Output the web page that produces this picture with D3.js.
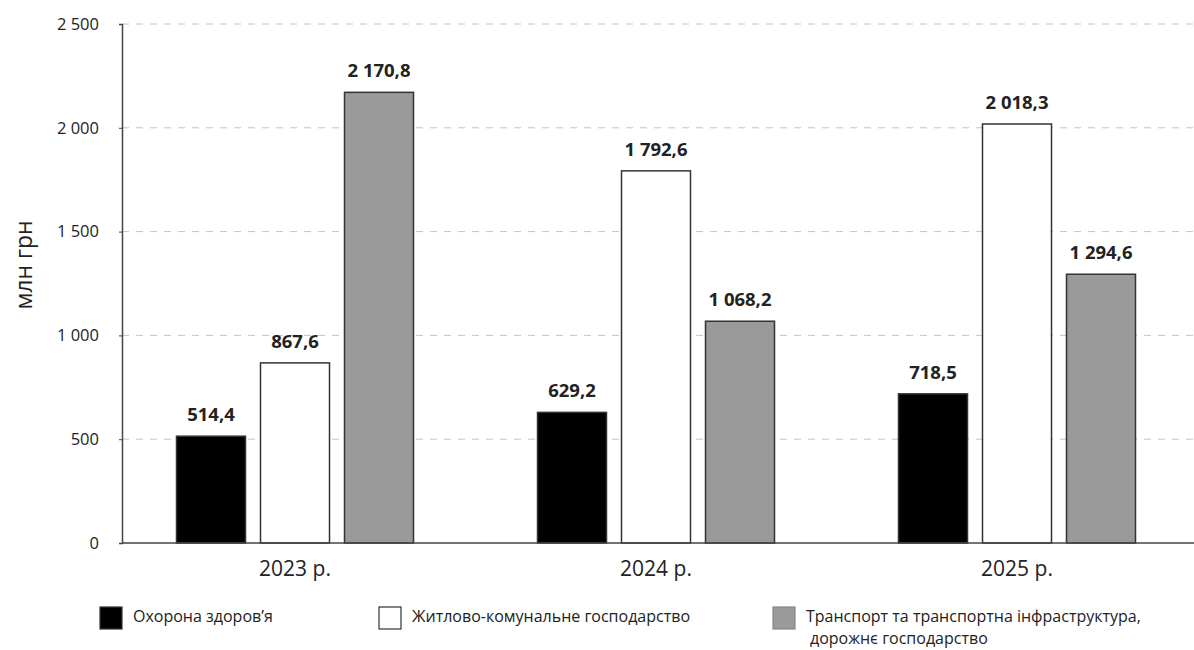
<!DOCTYPE html>
<html><head><meta charset="utf-8">
<script src="https://cdn.jsdelivr.net/npm/d3@7"></script>
<style>body{margin:0;background:#fff}svg{display:block}text{font-family:"Open Sans",sans-serif;fill:#222}</style>
</head><body><svg id="c" width="1194" height="650"></svg>
<script>
const years = ["2023 р.", "2024 р.", "2025 р."];
const seriesNames = ["Охорона здоров’я", "Житлово-комунальне господарство", "Транспорт та транспортна інфраструктура,|дорожнє господарство"];
const health = [514.4, 629.2, 718.5];
const housing = [867.6, 1792.6, 2018.3];
const transport = [2170.8, 1068.2, 1294.6];
const yTicks = [0, 500, 1000, 1500, 2000, 2500];
const fills = ["#000000", "#ffffff", "#9a9a9a"];

const series = [health, housing, transport];
const svg = d3.select("#c");
const y = d3.scaleLinear().domain([0, 2500]).range([543, 24]);
const x = d3.scaleBand().domain(years).range([114.5, 1197.5]).padding(0);
const fmt = v => {
  const s = v.toFixed(1).replace(".", ",");
  const [i, d] = s.split(",");
  return i.replace(/\B(?=(\d{3})+(?!\d))/g, " ") + "," + d;
};
const fmtTick = v => String(v).replace(/\B(?=(\d{3})+(?!\d))/g, " ");

// grid
svg.append("g").selectAll("line").data(yTicks.filter(t => t > 0)).join("line")
  .attr("x1", 122).attr("x2", 1194).attr("y1", d => y(d)).attr("y2", d => y(d))
  .attr("stroke", "#c4c4c4").attr("stroke-width", 1).attr("stroke-dasharray", "7,7");

// y axis
const ya = svg.append("g").attr("transform", "translate(122,0)")
  .call(d3.axisLeft(y).tickValues(yTicks).tickFormat(fmtTick).tickSize(3).tickPadding(20));
ya.select(".domain").attr("stroke", "#444").attr("stroke-width", 1.5);
ya.selectAll(".tick line").attr("stroke", "#444");
ya.selectAll("text").attr("font-size", 16.5).attr("font-family", "Open Sans").attr("fill", "#222");

// bars
const barW = 69, stepB = 84;
const g = svg.append("g");
years.forEach((yr, i) => {
  const cx = x(yr) + x.bandwidth() / 2;
  series.forEach((s, k) => {
    const bx = cx + (k - 1) * stepB - barW / 2;
    g.append("rect").attr("x", bx).attr("y", y(s[i])).attr("width", barW)
      .attr("height", y(0) - y(s[i])).attr("fill", fills[k])
      .attr("stroke", "#333").attr("stroke-width", 1.5);
    g.append("text").attr("x", bx + barW / 2).attr("y", y(s[i]) - 15)
      .attr("text-anchor", "middle").attr("font-size", 18.5).attr("font-weight", "bold")
      .text(fmt(s[i]));
  });
});

// x axis
svg.append("line").attr("x1", 122).attr("x2", 1194).attr("y1", y(0)).attr("y2", y(0))
  .attr("stroke", "#444").attr("stroke-width", 1.5);
svg.append("g").selectAll("text").data(years).join("text")
  .attr("x", d => x(d) + x.bandwidth() / 2).attr("y", 576)
  .attr("text-anchor", "middle").attr("font-size", 21).text(d => d);

// y title
svg.append("text").attr("transform", "translate(32,265) rotate(-90)")
  .attr("text-anchor", "middle").attr("font-size", 23).text("млн грн");

// legend
const legX = [100, 379, 773];
const lg = svg.append("g");
seriesNames.forEach((n, k) => {
  lg.append("rect").attr("x", legX[k]).attr("y", 607).attr("width", 22).attr("height", 22)
    .attr("fill", fills[k]).attr("stroke", k === 2 ? "#888" : "#333").attr("stroke-width", 1.2);
  const lines = n.split("|");
  lines.forEach((ln, j) => {
    lg.append("text").attr("x", legX[k] + 33 + (j > 0 ? 4 : 0)).attr("y", 622 + j * 22)
      .attr("font-size", 16).attr("textLength", null).text(ln);
  });
});
</script></body></html>
